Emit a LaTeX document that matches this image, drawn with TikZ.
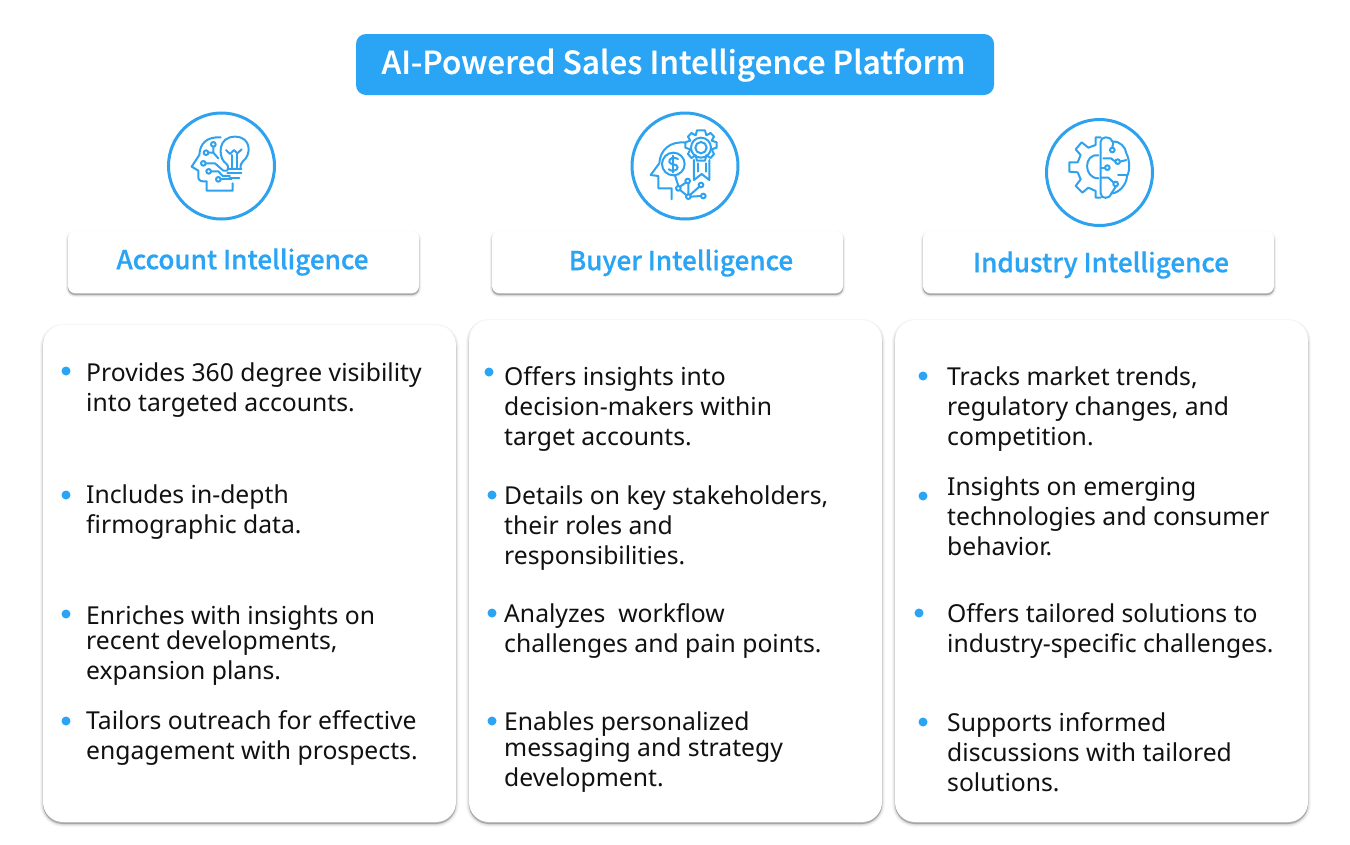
\documentclass[tikz,border=0pt]{standalone}
\usepackage{fontspec}
\setmainfont{Noto Sans}
\newfontfamily\headfont[FakeBold=0.6]{Noto Sans CJK SC Medium}
\definecolor{brandblue}{HTML}{2AA4F4}
\definecolor{iconblue}{HTML}{2EA2EE}
\definecolor{inktext}{HTML}{111111}
\tikzset{
  softshadow/.style={
    preaction={fill=black,draw=black,opacity=.025,line width=#1*4pt,transform canvas={yshift=-2pt}},
    preaction={fill=black,draw=black,opacity=.03,line width=#1*3pt,transform canvas={yshift=-2pt}},
    preaction={fill=black,draw=black,opacity=.04,line width=#1*2pt,transform canvas={yshift=-2pt}},
    preaction={fill=black,draw=black,opacity=.06,line width=#1*1pt,transform canvas={yshift=-2pt}},
    preaction={fill=black,draw=black,opacity=.08,line width=0.5pt,transform canvas={yshift=-1.5pt}}},
  titlebox/.style={fill=brandblue,rounded corners=10pt,inner sep=0pt,minimum width=638pt,minimum height=61pt},
  headbox/.style={fill=white,rounded corners=7pt,inner sep=0pt,minimum width=351pt,minimum height=62pt,softshadow=1.2},
  panel/.style={fill=white,rounded corners=20pt,inner sep=0pt,minimum width=413pt,softshadow=1.6},
  titletext/.style={text=white,font=\headfont\fontsize{31.6}{38}\selectfont,inner sep=0pt},
  headtext/.style={text=brandblue,font=\headfont\fontsize{26.1}{30}\selectfont,inner sep=0pt},
  bodytext/.style={text=inktext,font=\fontsize{24.7}{30}\selectfont,inner sep=0pt,anchor=base west},
  dotmark/.style={circle,fill=brandblue,inner sep=0pt,minimum size=9pt},
  ring/.style={circle,draw=iconblue,line width=3pt,fill=white,inner sep=0pt,minimum size=106pt},
  ico/.style={draw=iconblue,line width=2pt,line join=round,line cap=round},
}
\newcommand{\bul}[6]{%
  \node[dotmark] (#1d) at (#2,#3) {};
  \node[bodytext] (#1) at (#4,#5) {\begin{tabular}[t]{@{}l@{}}#6\end{tabular}};}
\begin{document}
\begin{tikzpicture}[x=1pt,y=-1pt]
\useasboundingbox (0,0) rectangle (1350,844);
\fill[white] (0,0) rectangle (1350,844);
% title
\node[titlebox] (title) at (675,64.5) {};
\node[titletext] (titlet) at (673.5,65) {AI-Powered Sales Intelligence Platform};
% rings
\node[ring] (r1) at (221.5,166) {};
\node[ring] (r2) at (685,166) {};
\node[ring] (r3) at (1099.5,172.5) {};
% icon 1
\begin{scope}[shift={(150,100)},x=0.3333pt,y=-0.3333pt,ico]
\draw (212,112) .. controls (170,110) and (150,130) .. (148,165) -- (125,200) -- (145,212) -- (145,232) .. controls (145,243) and (155,245) .. (170,244) -- (170,272) -- (248,272) -- (248,250);
\draw (222,185) .. controls (205,165) and (205,110) .. (255,110) .. controls (305,110) and (305,165) .. (278,185) .. controls (270,195) and (272,200) .. (272,208);
\draw (222,185) .. controls (235,195) and (235,200) .. (235,208);
\draw (232,208) -- (274,208) (232,220) -- (274,220) (238,235) -- (268,235);
\draw (228,150) -- (240,162) -- (252,150) -- (262,160) -- (275,148);
\draw (245,165) -- (245,205) (262,162) -- (262,205);
\draw (190,133) circle (7) (168,158) circle (7) (160,190) circle (7) (176,214) circle (7) (205,238) circle (7);
\draw (190,140) -- (190,158) -- (205,175) (175,158) -- (190,158);
\draw (167,190) -- (195,190) -- (220,212) -- (232,212);
\draw (183,214) -- (205,214) -- (218,228) -- (240,228);
\draw (212,238) -- (245,238);
\end{scope}
% icon 2
\begin{scope}[shift={(620,100)},x=0.3333pt,y=-0.3333pt,ico]
\draw (198,128) .. controls (150,122) and (120,150) .. (118,190) -- (92,225) -- (115,228) -- (115,265) -- (155,265) -- (155,298);
\draw (160,192) circle (34);
\draw (174,177) .. controls (160,168) and (146,176) .. (148,186) .. controls (150,196) and (172,190) .. (173,202) .. controls (173,212) and (155,216) .. (146,208);
\draw (160,167) -- (160,217);
\draw (243,91) -- (255,91) -- (259,106) -- (272,99) -- (282,110) -- (275,122) -- (290,127) -- (290,143) -- (275,148) -- (282,162) -- (272,174) -- (259,166) -- (255,182) -- (231,182) -- (227,166) -- (214,174) -- (204,162) -- (211,148) -- (196,143) -- (196,127) -- (211,122) -- (204,110) -- (214,99) -- (227,106) -- (231,91) -- cycle;
\draw (243,143) circle (30) (243,143) circle (17);
\draw (222,180) -- (222,240) -- (245,222) -- (268,240) -- (268,180);
\draw (233,190) -- (233,215) (257,190) -- (257,215);
\draw (175,265) circle (7) (203,243) circle (7) (205,290) circle (7) (250,288) circle (7) (243,255) circle (7);
\draw (165,226) -- (175,258) (180,270) -- (200,286) (205,250) -- (205,283) (197,248) -- (180,260) (212,290) -- (243,288) (238,260) -- (210,285);
\end{scope}
% icon 3
\begin{scope}[shift={(1035,110)},x=0.3333pt,y=-0.3333pt,ico]
\draw (197,82) -- (182,82) -- (182,105) -- (160,113) -- (140,97) -- (122,118) -- (137,135) -- (128,157) -- (103,157) -- (103,185) -- (128,187) -- (137,208) -- (122,228) -- (142,248) -- (160,233) -- (182,243) -- (182,263) -- (197,263);
\draw (190,136) .. controls (145,130) and (145,205) .. (190,205);
\draw (197,95) .. controls (197,80) and (225,75) .. (232,95) .. controls (255,92) and (272,112) .. (274,130) .. controls (285,150) and (285,185) .. (276,198) .. controls (275,225) and (250,250) .. (230,250) .. controls (225,268) and (197,268) .. (197,250) -- (197,95);
\draw (232,120) circle (7) (248,155) circle (7) (217,173) circle (7) (242,222) circle (7);
\draw (232,113) -- (235,96);
\draw (255,155) -- (274,150);
\draw (205,145) -- (228,145) -- (241,155);
\draw (210,173) -- (197,173);
\draw (235,217) -- (220,203) -- (197,203) (243,229) -- (228,252);
\draw (249,195) -- (276,195);
\end{scope}
% heading boxes
\node[headbox] (h1) at (243.5,262) {};
\node[headbox] (h2) at (667.5,262) {};
\node[headbox] (h3) at (1098.5,262) {};
\node[headtext] (h1t) at (242.5,262) {Account Intelligence};
\node[headtext] (h2t) at (681,263) {Buyer Intelligence};
\node[headtext] (h3t) at (1101,265) {Industry Intelligence};
% panels
\node[panel,minimum height=497pt] (p1) at (249.5,573.5) {};
\node[panel,minimum height=502pt] (p2) at (675.5,571) {};
\node[panel,minimum height=502pt] (p3) at (1101.5,571) {};
% column 1
\bul{a}{66}{371}{86}{381}{Provides 360 degree visibility\\into targeted accounts.}
\bul{b}{66}{495}{86}{503}{Includes in-depth\\firmographic data.}
\bul{c}{66}{614}{86}{624}{Enriches with insights on\\[-5pt]recent developments,\\expansion plans.}
\bul{d}{66}{721}{86}{729}{Tailors outreach for effective\\engagement with prospects.}
% column 2
\bul{e}{489}{372}{504}{385}{Offers insights into\\decision-makers within\\target accounts.}
\bul{f}{492}{495}{504}{504}{Details on key stakeholders,\\their roles and\\responsibilities.}
\bul{g}{492}{613}{504}{622}{Analyzes\ \ workflow\\challenges and pain points.}
\bul{i}{492}{721}{504}{730}{Enables personalized\\[-4pt]messaging and strategy\\development.}
% column 3
\bul{j}{923}{376}{947}{385}{Tracks market trends,\\regulatory changes, and\\competition.}
\bul{k}{923}{496}{947}{495}{Insights on emerging\\technologies and consumer\\behavior.}
\bul{l}{919}{613}{947}{622}{Offers tailored solutions to\\industry-specific challenges.}
\bul{m}{923}{722}{947}{731}{Supports informed\\discussions with tailored\\solutions.}
\end{tikzpicture}
\end{document}
